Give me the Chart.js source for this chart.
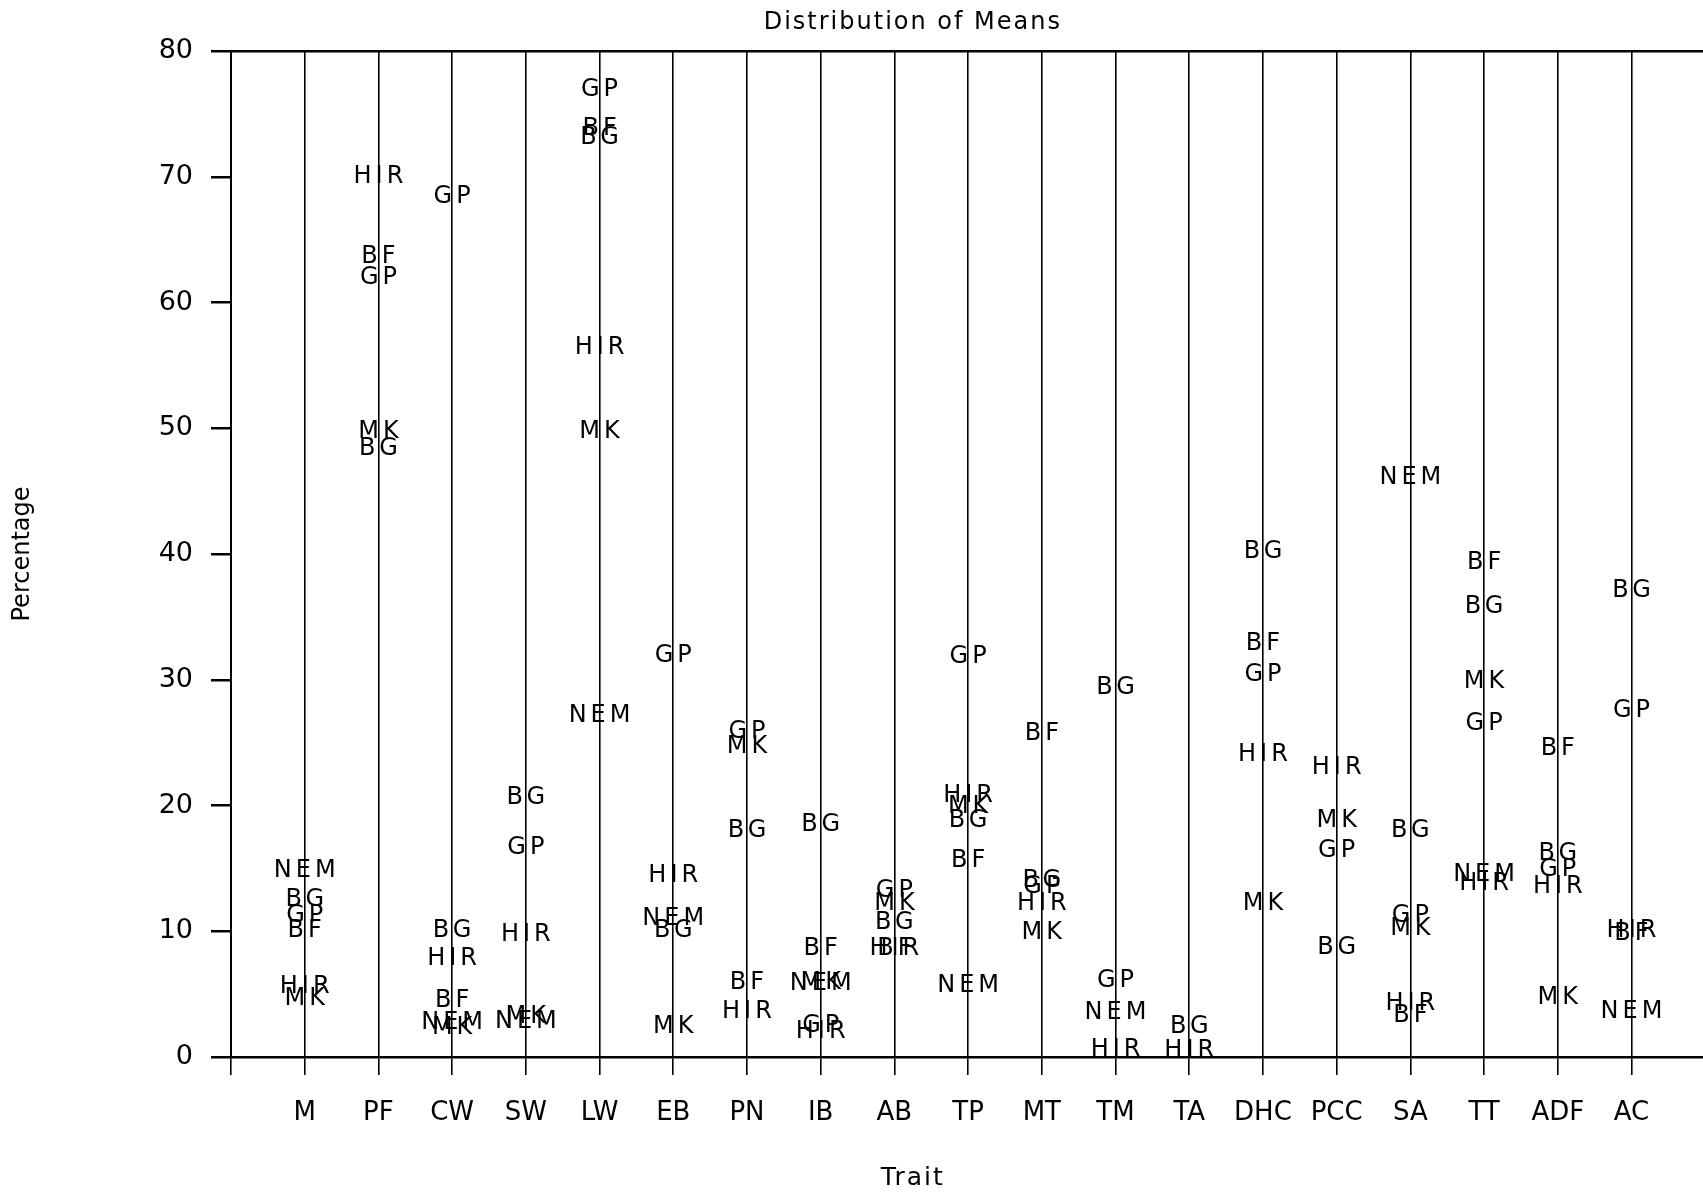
<!DOCTYPE html>
<html>
<head>
<meta charset="utf-8">
<title>Distribution of Means</title>
<script src="https://cdn.jsdelivr.net/npm/chart.js@4.4.1/dist/chart.umd.min.js"></script>
<style>
  html, body { margin: 0; padding: 0; background: #fff; overflow: hidden; }
  canvas { display: block; }
</style>
</head>
<body>
<canvas id="myChart" width="1703" height="1198"></canvas>
<script>
// traits along the x axis
var traits = ['M', 'PF', 'CW', 'SW', 'LW', 'EB', 'PN', 'IB', 'AB', 'TP',
              'MT', 'TM', 'TA', 'DHC', 'PCC', 'SA', 'TT', 'ADF', 'AC'];

// mean percentage per trait, null = not plotted
var BF  = [10.0, 63.6,  4.5, null, 73.8, null,  5.9,  8.6,  8.6, 15.6, 25.7, null, null, 32.9, null,  3.3, 39.3, 24.5,  9.8];
var BG  = [12.5, 48.4, 10.0, 20.6, 73.1, 10.0, 18.0, 18.5, 10.7, 18.8, 14.0, 29.4,  2.4, 40.2,  8.7, 18.0, 35.8, 16.2, 37.1];
var GP  = [11.2, 62.0, 68.4, 16.6, 76.9, 31.9, 25.9,  2.5, 13.2, 31.8, 13.5,  6.1, null, 30.4, 16.4, 11.2, 26.5, 14.9, 27.5];
var HIR = [ 5.6, 70.0,  7.8,  9.7, 56.4, 14.4,  3.6,  2.0,  8.6, 20.8, 12.2,  0.6,  0.5, 24.0, 23.0,  4.2, 13.8, 13.5, 10.0];
var MK  = [ 4.6, 49.7,  2.3,  3.2, 49.7,  2.4, 24.7,  5.9, 12.2, 19.9,  9.9, null, null, 12.2, 18.8, 10.2, 29.8,  4.7, null];
var NEM = [14.8, null,  2.7,  2.8, 27.1, 11.0, null,  5.8, null,  5.7, null,  3.5, null, null, null, 46.1, 14.5, null,  3.6];

var yTicks = [0, 10, 20, 30, 40, 50, 60, 70, 80];

var groups = [
    {label: 'BF', values: BF},
    {label: 'BG', values: BG},
    {label: 'GP', values: GP},
    {label: 'HIR', values: HIR},
    {label: 'MK', values: MK},
    {label: 'NEM', values: NEM}
];

function toPoints(values) {
    var pts = [];
    values.forEach(function (v, i) {
        if (v !== null) pts.push({x: i, y: v});
    });
    return pts;
}

var font = '"DejaVu Sans", sans-serif';

// each point is drawn as its group name
var textLabels = {
    id: 'textLabels',
    afterDatasetsDraw: function (chart) {
        var ctx = chart.ctx;
        ctx.save();
        ctx.font = '24px ' + font;
        ctx.fillStyle = '#000';
        ctx.textAlign = 'center';
        ctx.textBaseline = 'middle';
        ctx.letterSpacing = '4px';
        chart.data.datasets.forEach(function (ds, i) {
            chart.getDatasetMeta(i).data.forEach(function (pt) {
                ctx.fillText(ds.label, pt.x + 2, pt.y);
            });
        });
        ctx.restore();
    }
};

// chart title and x axis title
var titles = {
    id: 'titles',
    afterDraw: function (chart) {
        var ctx = chart.ctx;
        var cx = chart.scales.x.getPixelForValue(8.25);
        ctx.save();
        ctx.fillStyle = '#000';
        ctx.textAlign = 'center';
        ctx.textBaseline = 'middle';
        ctx.letterSpacing = '2px';
        ctx.font = '24px ' + font;
        ctx.fillText('Distribution of Means', cx, 23);
        ctx.font = '25px ' + font;
        ctx.fillText('Trait', cx, chart.height - 20);
        ctx.restore();
    }
};

var ctx = document.getElementById('myChart');
var chart = new Chart(ctx, {
    type: 'scatter',
    data: {
        datasets: groups.map(function (g) {
            return {
                label: g.label,
                data: toPoints(g.values),
                pointRadius: 0,
                pointHoverRadius: 0,
                showLine: false
            };
        })
    },
    options: {
        responsive: false,
        animation: false,
        events: [],
        layout: {padding: {top: 51, right: 0, bottom: 0, left: 0}},
        plugins: {
            legend: {display: false},
            tooltip: {enabled: false},
            title: {display: false}
        },
        scales: {
            x: {
                type: 'linear',
                min: -1,
                max: 18.97,
                afterFit: function (s) { s.height = 141; },
                afterBuildTicks: function (s) {
                    // one line per trait, plus the left frame line at -1
                    s.ticks = [{value: -1}].concat(traits.map(function (t, i) { return {value: i}; }));
                },
                ticks: {
                    autoSkip: false,
                    maxRotation: 0,
                    padding: 23,
                    color: '#000',
                    font: {family: font, size: 26},
                    callback: function (v) { return traits[v] || ''; }
                },
                grid: {
                    color: '#000',
                    lineWidth: 1.6,
                    tickLength: 18,
                    drawTicks: true
                },
                border: {display: true, color: '#000', width: 2.5}
            },
            y: {
                min: 0,
                max: 80,
                afterFit: function (s) { s.width = 231; },
                afterBuildTicks: function (s) {
                    s.ticks = yTicks.map(function (v) { return {value: v}; });
                },
                ticks: {
                    padding: 18,
                    color: '#000',
                    font: {family: font, size: 27}
                },
                grid: {
                    color: function (c) {
                        return c.tick && c.tick.value === 80 ? '#000' : 'rgba(0,0,0,0)';
                    },
                    tickColor: '#000',
                    lineWidth: 2.5,
                    tickLength: 20
                },
                border: {display: true, color: '#000', width: 2},
                title: {
                    display: true,
                    text: 'Percentage',
                    color: '#000',
                    font: {family: font, size: 24},
                    padding: {top: 8, bottom: 0}
                }
            }
        }
    },
    plugins: [textLabels, titles]
});
</script>
</body>
</html>
